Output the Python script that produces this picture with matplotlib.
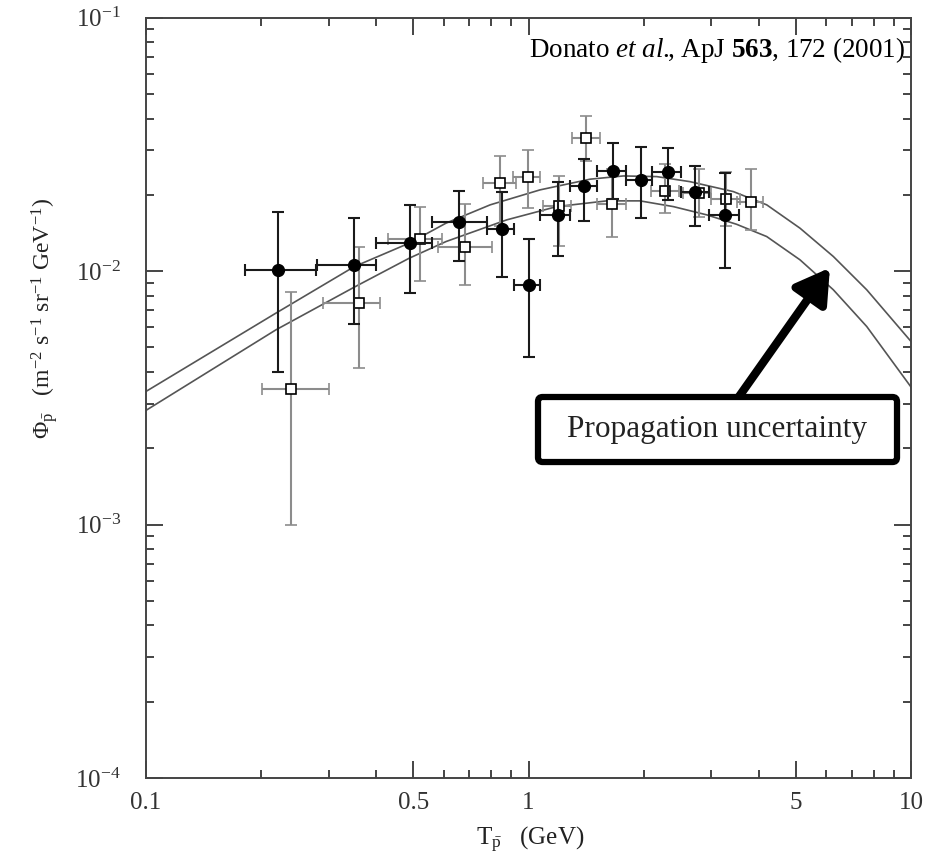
import numpy as np
import matplotlib
matplotlib.use('Agg')
import matplotlib.pyplot as plt
from matplotlib.patches import FancyBboxPatch
from matplotlib.ticker import FixedLocator, FixedFormatter, LogFormatterMathtext, NullFormatter

plt.rcParams['font.family'] = ['Liberation Serif', 'DejaVu Serif']
plt.rcParams['mathtext.fontset'] = 'custom'
plt.rcParams['mathtext.rm'] = 'Liberation Serif'
plt.rcParams['mathtext.it'] = 'Liberation Serif:italic'
plt.rcParams['mathtext.bf'] = 'Liberation Serif:bold'

# model band (upper / lower propagation curves)
curve_x = [0.1, 0.2187, 0.3505, 0.488, 0.6085, 0.794, 1.072, 1.448, 1.769, 2.164,
           2.644, 3.43, 4.195, 5.126, 6.265, 7.66, 10.0]
curve_hi = [0.003352, 0.00683, 0.01042, 0.0129, 0.01546, 0.01826, 0.02092, 0.02305, 0.02374, 0.0236,
            0.02254, 0.0206, 0.01826, 0.01477, 0.01142, 0.00844, 0.005278]
curve_lo_x = [0.1, 0.2187, 0.3505, 0.488, 0.6085, 0.877, 1.185, 1.601, 1.957, 2.391,
              2.924, 3.5, 4.195, 5.126, 6.265, 7.66, 10.0]
curve_lo = [0.002822, 0.005868, 0.008648, 0.01125, 0.01308, 0.01593, 0.01797, 0.01893, 0.01893, 0.01797,
            0.01667, 0.0153, 0.01369, 0.01108, 0.00844, 0.006046, 0.003489]

# filled circles
c_x = np.array([0.221, 0.350, 0.490, 0.658, 0.852, 1.005, 1.194, 1.396, 1.663, 1.968, 2.315, 2.72, 3.26])
c_y = np.array([0.0101, 0.01057, 0.0129, 0.0156, 0.0146, 0.0088, 0.0166, 0.0216, 0.0248, 0.0228, 0.0245, 0.0205, 0.0166])
c_ylo = np.array([0.0040, 0.00618, 0.00819, 0.0110, 0.00947, 0.00459, 0.01146, 0.0157, 0.0192, 0.0162, 0.0190, 0.01503, 0.01027])
c_yhi = np.array([0.0171, 0.0162, 0.0182, 0.0207, 0.0205, 0.01337, 0.0224, 0.0276, 0.0319, 0.0310, 0.0305, 0.0261, 0.0243])
c_xlo = np.array([0.181, 0.280, 0.40, 0.56, 0.777, 0.914, 1.074, 1.28, 1.51, 1.80, 2.10, 2.50, 2.97])
c_xhi = np.array([0.279, 0.40, 0.56, 0.777, 0.914, 1.074, 1.28, 1.51, 1.80, 2.10, 2.50, 2.96, 3.56])

# open squares
s_x = np.array([0.240, 0.361, 0.520, 0.681, 0.841, 0.995, 1.198, 1.416, 1.655, 2.27, 2.79, 3.28, 3.81])
s_y = np.array([0.00343, 0.00748, 0.01337, 0.0124, 0.0222, 0.02344, 0.0180, 0.0334, 0.01836, 0.0208, 0.0203, 0.0192, 0.0187])
s_ylo = np.array([0.0010, 0.00415, 0.00914, 0.0088, 0.0150, 0.0177, 0.01254, 0.0271, 0.01361, 0.0169, 0.01633, 0.0150, 0.0145])
s_yhi = np.array([0.00826, 0.0124, 0.0179, 0.0184, 0.0284, 0.0300, 0.02366, 0.0408, 0.0252, 0.0264, 0.0252, 0.0245, 0.0252])
s_xlo = np.array([0.2005, 0.291, 0.43, 0.579, 0.76, 0.91, 1.09, 1.30, 1.51, 2.09, 2.54, 3.0, 3.5])
s_xhi = np.array([0.301, 0.409, 0.593, 0.801, 0.93, 1.07, 1.29, 1.54, 1.80, 2.48, 3.0, 3.58, 4.11])

x_major = [0.1, 0.5, 1, 5, 10]
x_major_labels = ['0.1', '0.5', '1', '5', '10']

fig = plt.figure(figsize=(9.36, 8.66), dpi=100)
ax = fig.add_axes([0.156, 0.1016, 0.8173, 0.878])

ax.plot(curve_x, curve_hi, color='#555555', lw=1.2, zorder=1)
ax.plot(curve_lo_x, curve_lo, color='#555555', lw=1.2, zorder=1)

ax.errorbar(s_x, s_y, yerr=[s_y - s_ylo, s_yhi - s_y], xerr=[s_x - s_xlo, s_xhi - s_x],
            fmt='s', ms=7, mfc='white', mec='black', mew=1.2, ecolor='#8c8c8c',
            elinewidth=1.5, capsize=4.5, capthick=1.5, zorder=2)
ax.errorbar(c_x, c_y, yerr=[c_y - c_ylo, c_yhi - c_y], xerr=[c_x - c_xlo, c_xhi - c_x],
            fmt='o', ms=8.5, color='black', ecolor='#1a1a1a',
            elinewidth=1.5, capsize=4.5, capthick=1.5, zorder=3)

ax.set_xscale('log')
ax.set_yscale('log')
ax.set_xlim(0.1, 10)
ax.set_ylim(1e-4, 1e-1)

ax.xaxis.set_major_locator(FixedLocator(x_major))
ax.xaxis.set_major_formatter(FixedFormatter(x_major_labels))
ax.xaxis.set_minor_locator(FixedLocator([0.2, 0.3, 0.4, 0.6, 0.7, 0.8, 0.9, 2, 3, 4, 6, 7, 8, 9]))
ax.xaxis.set_minor_formatter(NullFormatter())
ax.yaxis.set_major_formatter(LogFormatterMathtext())
ax.yaxis.set_minor_formatter(NullFormatter())

ax.tick_params(which='both', direction='in', top=True, right=True, color='#444444', width=1.4)
ax.tick_params(which='major', length=12, labelsize=18, labelcolor='#333333')
ax.tick_params(which='minor', length=6)
ax.tick_params(axis='x', which='major', pad=10)
ax.tick_params(axis='y', which='major', pad=18)
for s in ax.spines.values():
    s.set_color('#444444')
    s.set_linewidth(1.4)

ax.set_xlabel(r'T$_{\bar{\rm p}}$   (GeV)', fontsize=18, color='#222222')
ax.xaxis.set_label_coords(0.502, -0.062)
ax.set_ylabel(r'$\Phi_{\bar{\rm p}}$   (m$^{-2}$ s$^{-1}$ sr$^{-1}$ GeV$^{-1}$)', fontsize=17, color='#222222')
ax.yaxis.set_label_coords(-0.112, 0.605)

ax.text(0.992, 0.957, r'Donato $\mathit{et\ al.}\!\!$, ApJ $\mathbf{563}$, 172 (2001)',
        transform=ax.transAxes, ha='right', va='center', fontsize=19.5)

# annotation box with arrow
box = FancyBboxPatch((0.5124, 0.4156), 0.4693, 0.0855, boxstyle='round,pad=0,rounding_size=0.006',
                     transform=ax.transAxes, fc='white', ec='black', lw=4.5, zorder=5)
ax.add_patch(box)
ax.text(0.747, 0.4583, 'Propagation uncertainty', transform=ax.transAxes,
        ha='center', va='center', fontsize=22.5, color='#222222', zorder=6)
ax.annotate('', xy=(0.894, 0.671), xytext=(0.774, 0.50), xycoords='axes fraction',
            arrowprops=dict(arrowstyle='-|>,head_length=0.5,head_width=0.3', lw=6,
                            color='black', shrinkA=0, shrinkB=0, mutation_scale=40), zorder=4)

fig.savefig('out.png', dpi=100)
